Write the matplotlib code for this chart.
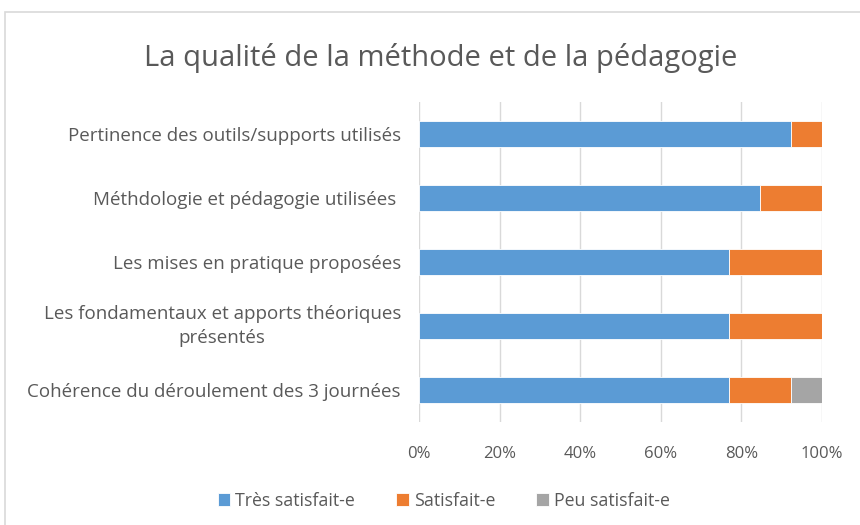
#!/usr/bin/env python3

import matplotlib
matplotlib.use("Agg")
import matplotlib.pyplot as plt
from matplotlib.patches import Rectangle
from matplotlib.ticker import PercentFormatter

##### Data (top to bottom as shown)
categories = [
    "Pertinence des outils/supports utilisés",
    "Méthdologie et pédagogie utilisées ",
    "Les mises en pratique proposées",
    "Les fondamentaux et apports théoriques\nprésentés",
    "Cohérence du déroulement des 3 journées",
]
tres_satisfait = [92.3, 84.6, 76.9, 76.9, 76.9]
satisfait      = [7.7, 15.4, 23.1, 23.1, 15.4]
peu_satisfait  = [0.0, 0.0, 0.0, 0.0, 7.7]
series_names = ["Très satisfait-e", "Satisfait-e", "Peu satisfait-e"]
colors = ["#5B9BD5", "#ED7D31", "#A5A5A5"]

TEXT_COLOR = "#595959"
plt.rcParams["font.family"] = ["Open Sans", "DejaVu Sans"]

fig = plt.figure(figsize=(8.6, 5.25), dpi=100)
ax = fig.add_axes([0.4872, 0.196, 0.4686, 0.6097])

### chart frame
fig.patches.append(Rectangle((5 / 860, -0.01), 1.0, 1 - 12 / 525 + 0.01,
                             transform=fig.transFigure, fill=False,
                             edgecolor="#D9D9D9", linewidth=1.2))

ypos = list(range(len(categories)))[::-1]
left = [0.0] * len(categories)
for name, vals, col in zip(series_names, [tres_satisfait, satisfait, peu_satisfait], colors):
    ax.barh(ypos, vals, left=left, height=0.4, color=col, label=name,
            edgecolor="white", linewidth=0.6)
    left = [l + v for l, v in zip(left, vals)]

ax.set_xlim(0, 100)
ax.set_ylim(-0.5, len(categories) - 0.5)
ax.set_xticks(range(0, 101, 20))
ax.xaxis.set_major_formatter(PercentFormatter(decimals=0))
ax.set_yticks(ypos)
ax.set_yticklabels(categories, multialignment="center", linespacing=1.45)
for lbl in ax.get_yticklabels():
    if "\n" in lbl.get_text():
        lbl.set_va("center")

ax.grid(axis="x", color="#D9D9D9", linewidth=1)
ax.set_axisbelow(True)
for s in ax.spines.values():
    s.set_visible(False)
ax.tick_params(axis="both", length=0, colors=TEXT_COLOR)
ax.tick_params(axis="y", pad=13, labelsize=13.5)
ax.tick_params(axis="x", pad=17, labelsize=12)

fig.text(0.512, 0.89, "La qualité de la méthode et de la pédagogie",
         ha="center", va="center", fontsize=21, color=TEXT_COLOR)

fig.legend(loc="center", bbox_to_anchor=(0.516, 0.046), ncol=3, frameon=False,
           fontsize=12.8, labelcolor=TEXT_COLOR, handlelength=0.7,
           handleheight=0.7, handletextpad=0.3, columnspacing=2.3)

plt.savefig("out.png", dpi=100)
